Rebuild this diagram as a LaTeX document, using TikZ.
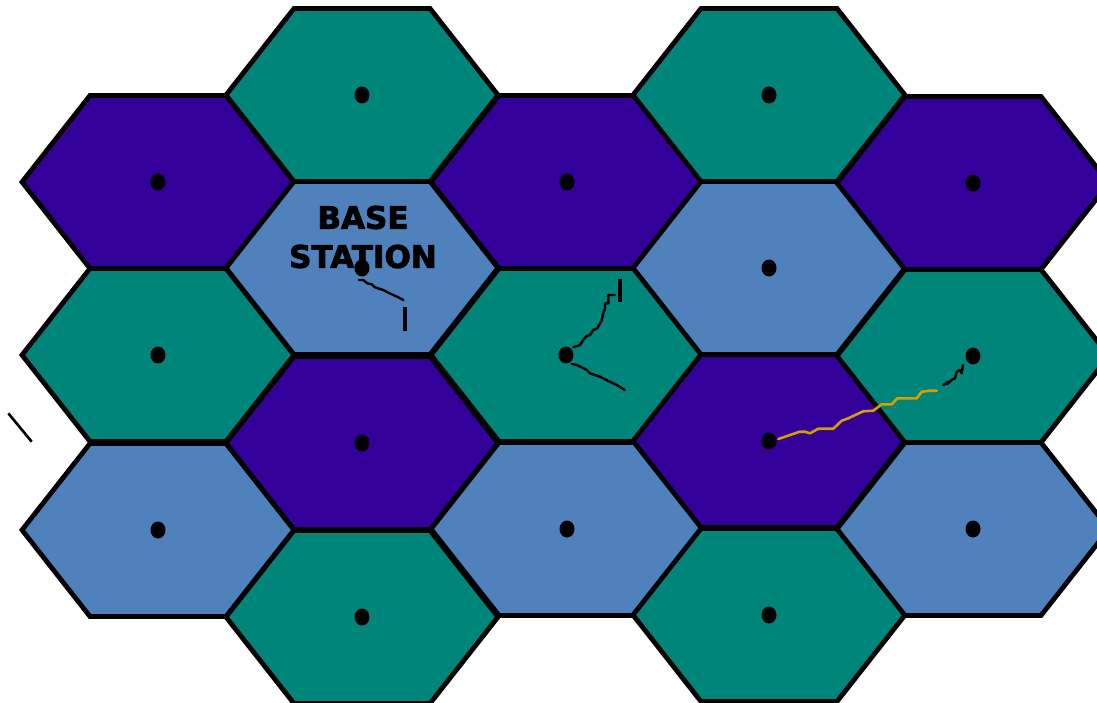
\documentclass[tikz,border=0pt]{standalone}
\usepackage{fontspec}
\newfontfamily\labelfont[BoldFeatures={RawFeature={embolden=2.5}}]{DejaVu Sans}
\definecolor{tealc}{RGB}{0,133,122}
\definecolor{purplec}{RGB}{51,0,153}
\definecolor{bluec}{RGB}{79,129,189}
\definecolor{goldc}{RGB}{212,160,0}
\tikzset{
  hexline/.style={draw=black, line width=4.8pt, line join=miter},
  dot/.style={circle, fill=black, inner sep=0pt, minimum width=15pt, minimum height=17pt, ellipse},
  wiggle/.style={draw=black, line width=2.4pt, line join=round, line cap=round},
  goldwiggle/.style={draw=goldc, line width=2.6pt, line join=round, line cap=round},
  bar/.style={draw=black, line width=4pt},
}
\newcommand\hexcell[3]{%
  \filldraw[hexline, fill=#3, shift={(#1,#2)}]
    (-136,0) -- (-68,-86.5) -- (68,-86.5) -- (136,0) -- (68,86.5) -- (-68,86.5) -- cycle;}
\usetikzlibrary{shapes.geometric}
\begin{document}
\begin{tikzpicture}[x=1pt,y=-1pt]
\useasboundingbox (0,0) rectangle (1097,703);
\clip (0,0) rectangle (1097,703);
% column 1
\hexcell{158}{182}{purplec}
\hexcell{158}{355}{tealc}
\hexcell{158}{530}{bluec}
% column 2
\hexcell{362}{95}{tealc}
\hexcell{362}{268}{bluec}
\hexcell{362}{443}{purplec}
\hexcell{362}{617}{tealc}
% column 3
\hexcell{567}{182}{purplec}
\hexcell{567}{355}{tealc}
\hexcell{567}{529}{bluec}
% column 4
\hexcell{769}{95}{tealc}
\hexcell{769}{268}{bluec}
\hexcell{769}{441}{purplec}
\hexcell{769}{615}{tealc}
% column 5
\hexcell{973}{183}{purplec}
\hexcell{973}{356}{tealc}
\hexcell{973}{529}{bluec}
% dots
\node[dot] (d11) at (158,182) {};
\node[dot] (d12) at (158,355) {};
\node[dot] (d13) at (158,530) {};
\node[dot] (d21) at (362,95) {};
\node[dot] (d22) at (362,268) {};
\node[dot] (d23) at (362,443) {};
\node[dot] (d24) at (362,617) {};
\node[dot] (d31) at (567,182) {};
\node[dot] (d32) at (566,355) {};
\node[dot] (d33) at (567,529) {};
\node[dot] (d41) at (769,95) {};
\node[dot] (d42) at (769,268) {};
\node[dot] (d43) at (769,441) {};
\node[dot] (d44) at (769,615) {};
\node[dot] (d51) at (973,183) {};
\node[dot] (d52) at (973,356) {};
\node[dot] (d53) at (973,529) {};
% label
\node[font=\labelfont\bfseries\fontsize{31}{39}\selectfont, align=center, inner sep=0pt] (label) at (363,237) {BASE\\STATION};
% base station squiggle
\draw[wiggle] (358.7,280) -- (363.3,280) -- (367.3,283.3) -- (371.7,284.3) -- (375,287.3) -- (380,289) -- (383.3,290) -- (388.3,292.7) -- (393.3,295) -- (398.3,297.3) -- (403.3,300);
\draw[bar] (405,307) -- (405,331);
% center cell squiggles
\draw[wiggle] (573.3,347.3) -- (580,345) -- (583.3,340) -- (586.7,336) -- (590,335) -- (593.3,330) -- (597.3,328.3) -- (600,323.3) -- (601.7,320) -- (603.3,313.3) -- (605,308.3) -- (605,303.3) -- (608.3,303.3) -- (608.3,295) -- (615,295);
\draw[bar] (620,279) -- (620,302);
\draw[wiggle] (571.7,364) -- (576.7,365) -- (581.7,367.3) -- (586.7,370) -- (590,373.3) -- (595,375) -- (600,376.7) -- (605,379.3) -- (610,381.7) -- (616.7,385) -- (625,390);
% gold squiggle
\draw[goldwiggle] (778.3,439) -- (790,435) -- (800,431.7) -- (805,431.7) -- (810,433.3) -- (818.3,428.7) -- (826.7,428.7) -- (833.3,428.7) -- (841.7,420.7) -- (848.3,418.3) -- (856.7,414.3) -- (863.3,411.3) -- (873.3,410.7) -- (881.7,404.3) -- (891.7,404.3) -- (897.3,398.3) -- (916.7,398.3) -- (921.7,391.7) -- (930,390.7) -- (936.7,390.7);
\draw[wiggle] (943.3,385) -- (948.3,381.7) -- (946.7,384.3) -- (951.7,380) -- (955,378.3) -- (956.7,371.7) -- (960,370) -- (961.7,373.3) -- (963,365);
% stray line at left
\draw[black, line width=2.6pt] (8.3,413.3) -- (31.7,441.7);
\end{tikzpicture}
\end{document}
